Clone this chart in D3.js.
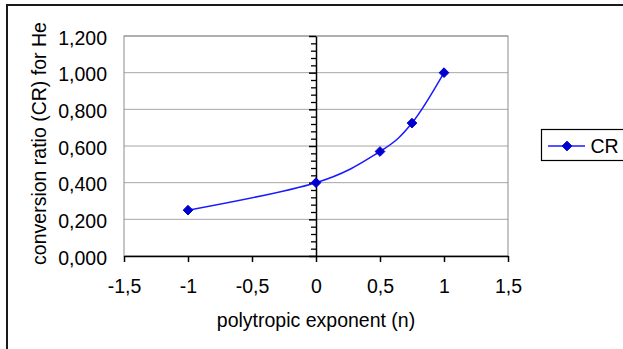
<!DOCTYPE html>
<html>
<head>
<meta charset="utf-8">
<script src="https://cdn.jsdelivr.net/npm/d3@7"></script>
<style>
  body { margin: 0; background: #fff; }
  svg { display: block; font-family: "Liberation Sans", Arial, sans-serif; }
</style>
</head>
<body>
<svg id="chart" width="623" height="349"></svg>
<script>
// values
var nValues = [-1, 0, 0.5, 0.75, 1];
var crValues = [0.25, 0.40, 0.57, 0.725, 1.0];
var xTickValues = [-1.5, -1, -0.5, 0, 0.5, 1, 1.5];
var yTickValues = [0, 0.2, 0.4, 0.6, 0.8, 1.0, 1.2];
var seriesName = 'CR';

var locale = d3.formatLocale({ decimal: ',', thousands: '.', grouping: [3], currency: ['', ''], minus: '-' });
var fmtY = locale.format('.3f');
var fmtX = locale.format('~r');

var svg = d3.select('#chart');
var plot = { left: 124, right: 508, top: 36, bottom: 256 };

var x = d3.scaleLinear().domain([-1.5, 1.5]).range([plot.left, plot.right]);
var y = d3.scaleLinear().domain([0, 1.2]).range([plot.bottom, plot.top]);

// outer chart frame (runs off the right / bottom edge)
svg.append('path')
  .attr('d', 'M7,360V5H640')
  .attr('fill', 'none')
  .attr('stroke', '#1a1a1a')
  .attr('stroke-width', 2);

// gridlines
svg.append('g')
  .selectAll('line')
  .data(yTickValues.filter(function (d) { return d > 0; }))
  .enter().append('line')
  .attr('x1', plot.left).attr('x2', plot.right)
  .attr('y1', function (d) { return y(d); })
  .attr('y2', function (d) { return y(d); })
  .attr('stroke', '#a6a6a6')
  .attr('stroke-width', 1);

// plot area border
svg.append('rect')
  .attr('x', plot.left).attr('y', plot.top)
  .attr('width', plot.right - plot.left)
  .attr('height', plot.bottom - plot.top)
  .attr('fill', 'none')
  .attr('stroke', '#8c8c8c')
  .attr('stroke-width', 1);

// x axis
var xAxis = svg.append('g')
  .attr('transform', 'translate(0,' + plot.bottom + ')')
  .call(d3.axisBottom(x).tickValues(xTickValues).tickSizeInner(6).tickSizeOuter(0).tickFormat(fmtX));
xAxis.select('.domain').attr('stroke', '#000').attr('stroke-width', 1.5);
xAxis.selectAll('.tick line').attr('stroke', '#000').attr('stroke-width', 1.5);
xAxis.selectAll('.tick text')
  .attr('font-size', '19.5px')
  .attr('fill', '#000')
  .attr('dy', null)
  .attr('y', 37);

// y axis sits at n = 0
var minorTicks = d3.range(0, 1.2001, 0.04).filter(function (d) {
  return Math.abs(d / 0.2 - Math.round(d / 0.2)) > 1e-6;
});
var yAxisG = svg.append('g').attr('transform', 'translate(' + x(0) + ',0)');
yAxisG.append('g')
  .call(d3.axisLeft(y).tickValues(minorTicks).tickSize(5).tickFormat(''))
  .call(function (g) { g.select('.domain').remove(); })
  .selectAll('line').attr('stroke', '#000').attr('stroke-width', 1.3);
var yMajor = yAxisG.append('g')
  .call(d3.axisLeft(y).tickValues(yTickValues).tickSizeInner(7).tickSizeOuter(0).tickFormat(''));
yMajor.select('.domain').attr('stroke', '#000').attr('stroke-width', 1.5);
yMajor.selectAll('.tick line').attr('stroke', '#000').attr('stroke-width', 1.5);

// y tick labels at the left edge of the plot area
svg.append('g')
  .selectAll('text')
  .data(yTickValues)
  .enter().append('text')
  .attr('x', 107)
  .attr('y', function (d) { return y(d) + 8.5; })
  .attr('text-anchor', 'end')
  .attr('font-size', '19.5px')
  .attr('fill', '#000')
  .text(function (d) { return fmtY(d); });

// axis titles
svg.append('text')
  .attr('x', x(0))
  .attr('y', 327)
  .attr('text-anchor', 'middle')
  .attr('font-size', '19.5px')
  .attr('fill', '#000')
  .text('polytropic exponent (n)');

svg.append('text')
  .attr('transform', 'translate(46,143.5) rotate(-90)')
  .attr('text-anchor', 'middle')
  .attr('font-size', '19.5px')
  .attr('fill', '#000')
  .text('conversion ratio (CR) for He');

// series
var pts = nValues.map(function (n, i) { return [n, crValues[i]]; });
var line = d3.line()
  .x(function (d) { return x(d[0]); })
  .y(function (d) { return y(d[1]); })
  .curve(d3.curveCardinal.tension(0));

svg.append('path')
  .datum(pts)
  .attr('d', line)
  .attr('fill', 'none')
  .attr('stroke', '#1a1aff')
  .attr('stroke-width', 1.5);

var diamond = d3.symbol().type(d3.symbolDiamond2).size(60);
svg.append('g')
  .selectAll('path')
  .data(pts)
  .enter().append('path')
  .attr('transform', function (d) { return 'translate(' + x(d[0]) + ',' + y(d[1]) + ')'; })
  .attr('d', diamond)
  .attr('fill', '#0000d0')
  .attr('stroke', '#0000d0')
  .attr('stroke-width', 1);

// legend
var legend = svg.append('g');
legend.append('rect')
  .attr('x', 541.5).attr('y', 129.5)
  .attr('width', 120).attr('height', 31)
  .attr('fill', '#fff')
  .attr('stroke', '#000')
  .attr('stroke-width', 1.2);
legend.append('line')
  .attr('x1', 548).attr('x2', 585)
  .attr('y1', 146).attr('y2', 146)
  .attr('stroke', '#1a1aff')
  .attr('stroke-width', 1.5);
legend.append('path')
  .attr('transform', 'translate(567,146)')
  .attr('d', diamond)
  .attr('fill', '#0000d0')
  .attr('stroke', '#0000d0');
legend.append('text')
  .attr('x', 590.5)
  .attr('y', 153)
  .attr('font-size', '19.5px')
  .attr('fill', '#000')
  .text(seriesName);
</script>
</body>
</html>
